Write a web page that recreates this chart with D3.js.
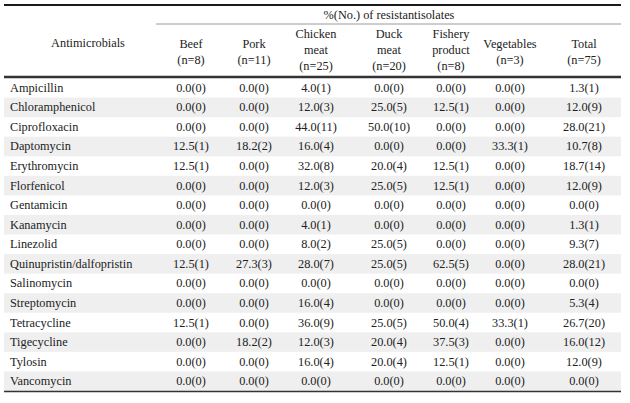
<!DOCTYPE html>
<html>
<head>
<meta charset="utf-8">
<script src="https://cdn.jsdelivr.net/npm/d3@7/dist/d3.min.js"></script>
<style>
  html, body { margin: 0; padding: 0; background: #fff; }
  svg { display: block; }
  text { font-family: "Liberation Serif", "DejaVu Serif", serif; fill: #222; }
</style>
</head>
<body>
<svg id="chart" width="630" height="403"></svg>
<script>
// ---------- data ----------
const antimicrobials = ["Ampicillin","Chloramphenicol","Ciprofloxacin","Daptomycin","Erythromycin",
  "Florfenicol","Gentamicin","Kanamycin","Linezolid","Quinupristin/dalfopristin","Salinomycin",
  "Streptomycin","Tetracycline","Tigecycline","Tylosin","Vancomycin"];

const groupTitle = "%(No.) of resistantisolates";
const rowHeaderTitle = "Antimicrobials";

const sources = ["Beef","Pork","Chicken meat","Duck meat","Fishery product","Vegetables","Total"];
const sourceN = [8, 11, 25, 20, 8, 3, 75];

const beefPct     = [0,0,0,12.5,12.5,0,0,0,0,12.5,0,0,12.5,0,0,0];
const beefNo      = [0,0,0,1,1,0,0,0,0,1,0,0,1,0,0,0];
const porkPct     = [0,0,0,18.2,0,0,0,0,0,27.3,0,0,0,18.2,0,0];
const porkNo      = [0,0,0,2,0,0,0,0,0,3,0,0,0,2,0,0];
const chickenPct  = [4.0,12.0,44.0,16.0,32.0,12.0,0,4.0,8.0,28.0,0,16.0,36.0,12.0,16.0,0];
const chickenNo   = [1,3,11,4,8,3,0,1,2,7,0,4,9,3,4,0];
const duckPct     = [0,25.0,50.0,0,20.0,25.0,0,0,25.0,25.0,0,0,25.0,20.0,20.0,0];
const duckNo      = [0,5,10,0,4,5,0,0,5,5,0,0,5,4,4,0];
const fisheryPct  = [0,12.5,0,0,12.5,12.5,0,0,0,62.5,0,0,50.0,37.5,12.5,0];
const fisheryNo   = [0,1,0,0,1,1,0,0,0,5,0,0,4,3,1,0];
const vegPct      = [0,0,0,33.3,0,0,0,0,0,0,0,0,33.3,0,0,0];
const vegNo       = [0,0,0,1,0,0,0,0,0,0,0,0,1,0,0,0];
const totalPct    = [1.3,12.0,28.0,10.7,18.7,12.0,0,1.3,9.3,28.0,0,5.3,26.7,16.0,12.0,0];
const totalNo     = [1,9,21,8,14,9,0,1,7,21,0,4,20,12,9,0];

const pctColumns = [beefPct, porkPct, chickenPct, duckPct, fisheryPct, vegPct, totalPct];
const noColumns  = [beefNo, porkNo, chickenNo, duckNo, fisheryNo, vegNo, totalNo];

// ---------- layout ----------
const svg = d3.select("#chart");
const left = 4, right = 621;
const topY = 5, groupLineY = 24, headBottom = 77, bodyBottom = 391;
const fontSize = 12.3;
const fmt = d3.format(".1f");

const y = d3.scaleBand().domain(d3.range(antimicrobials.length)).range([headBottom + 1, bodyBottom]);
const xCenter = d3.scaleOrdinal().domain(sources).range([191, 254, 316, 389, 451, 510, 584]);

// row shading
svg.append("g").selectAll("rect")
  .data(antimicrobials.map((d, i) => i).filter(i => i % 2 === 1))
  .join("rect")
  .attr("x", left).attr("width", right - left)
  .attr("y", i => y(i)).attr("height", y.bandwidth())
  .attr("fill", "#efefef");

// rules
const rule = (x1, x2, yy, w, c) => svg.append("line")
  .attr("x1", x1).attr("x2", x2).attr("y1", yy).attr("y2", yy)
  .attr("stroke", c).attr("stroke-width", w);
rule(left, right, topY, 2, "#1a1a1a");
rule(156, right, groupLineY, 1, "#9a9a9a");
rule(left, right, headBottom, 2.5, "#333");
rule(left, right, bodyBottom + 0.5, 1.5, "#333");

// header text
svg.append("text").attr("x", 88).attr("y", 47).attr("text-anchor", "middle")
  .attr("font-size", fontSize).text(rowHeaderTitle);
svg.append("text").attr("x", 389).attr("y", 19).attr("text-anchor", "middle")
  .attr("font-size", fontSize).text(groupTitle);

function headerLines(name, n) {
  const words = name.split(" ");
  return [...words, `(n=${n})`];
}
const lineGap = 16;
sources.forEach((s, j) => {
  const lines = headerLines(s, sourceN[j]);
  const mid = lines.length === 3 ? 50 : 52;
  const start = mid - (lines.length - 1) * lineGap / 2;
  const t = svg.append("text").attr("text-anchor", "middle").attr("font-size", fontSize);
  lines.forEach((ln, k) => {
    t.append("tspan").attr("x", xCenter(s)).attr("y", start + k * lineGap + 4).text(ln);
  });
});

// body
const rows = svg.append("g").selectAll("g").data(antimicrobials).join("g")
  .attr("transform", (d, i) => `translate(0,${y(i) + y.bandwidth() / 2 + 4})`);
rows.append("text").attr("x", 10).attr("font-size", fontSize).text(d => d);
sources.forEach((s, j) => {
  rows.append("text").attr("x", xCenter(s)).attr("text-anchor", "middle")
    .attr("font-size", fontSize)
    .text((d, i) => `${fmt(pctColumns[j][i])}(${noColumns[j][i]})`);
});
</script>
</body>
</html>
